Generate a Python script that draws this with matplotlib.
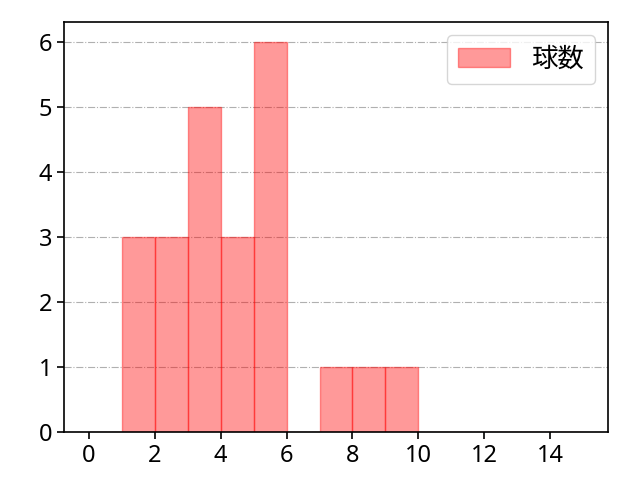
import numpy as np
import matplotlib
matplotlib.use("Agg")
import matplotlib.pyplot as plt

plt.rcParams['font.family'] = ['Noto Sans', 'Noto Sans CJK JP', 'DejaVu Sans']

# bin edges and counts
bin_edges = list(range(0, 16))
counts = [0, 3, 3, 5, 3, 6, 0, 1, 1, 1, 0, 0, 0, 0, 0]
label = "球数"

fig = plt.figure(figsize=(6.4, 4.8), dpi=100)
ax = fig.add_axes([0.1, 0.1, 0.85, 0.854])

ax.hist(bin_edges[:-1], bins=bin_edges, weights=counts,
        color='red', alpha=0.4, edgecolor='red', linewidth=1, label=label)

ax.set_xticks(range(0, 16, 2))
ax.set_yticks(range(0, 7))
ax.tick_params(labelsize=17, length=5, width=1.2)
ax.grid(axis='y', linestyle='-.', color='#b0b0b0', linewidth=0.8)
ax.set_axisbelow(True)
for s in ax.spines.values():
    s.set_linewidth(1.2)
ax.legend(loc='upper right', fontsize=19)

fig.savefig("out.png", dpi=100)
